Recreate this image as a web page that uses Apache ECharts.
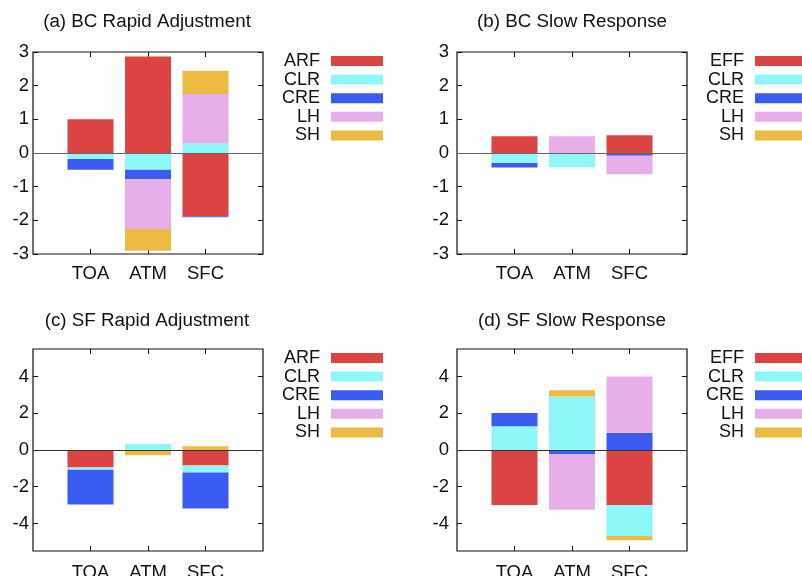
<!DOCTYPE html>
<html>
<head>
<meta charset="utf-8">
<script src="https://cdn.jsdelivr.net/npm/echarts@6/dist/echarts.min.js"></script>
<style>
  html, body { margin: 0; padding: 0; background: #fff; }
  #chart { width: 802px; height: 576px; }
</style>
</head>
<body>
<div id="chart"></div>
<script>
// Energy budget decomposition (W m-2) at TOA, in the atmosphere and at the surface
const categories = ['TOA', 'ATM', 'SFC'];

// (a) BC rapid adjustment
const bcRapidARF = [1.0, 2.87, -1.88];
const bcRapidCLR = [-0.18, -0.5, 0.29];
const bcRapidCRE = [-0.32, -0.28, -0.03];
const bcRapidLH  = [0, -1.48, 1.46];
const bcRapidSH  = [0, -0.64, 0.69];

// (b) BC slow response
const bcSlowEFF = [0.5, 0, 0.53];
const bcSlowCLR = [-0.3, -0.42, 0];
const bcSlowCRE = [-0.13, 0, -0.08];
const bcSlowLH  = [0, 0.5, -0.55];
const bcSlowSH  = [0, 0, 0];

// (c) SF rapid adjustment
const sfRapidARF = [-0.95, -0.06, -0.85];
const sfRapidCLR = [-0.12, 0.32, -0.38];
const sfRapidCRE = [-1.9, 0, -1.96];
const sfRapidLH  = [0, 0, 0];
const sfRapidSH  = [0, -0.22, 0.2];

// (d) SF slow response
const sfSlowEFF = [-3.0, 0, -3.0];
const sfSlowCLR = [1.3, 2.92, -1.68];
const sfSlowCRE = [0.72, -0.22, 0.94];
const sfSlowLH  = [0, -3.03, 3.06];
const sfSlowSH  = [0, 0.33, -0.24];

// Axis tick labels
const bcTicks = [-3, -2, -1, 0, 1, 2, 3];
const sfTicks = [-4, -2, 0, 2, 4];

const COLORS = {
  ARF: '#dc4343', EFF: '#dc4343',
  CLR: '#8ef8f8', CRE: '#3b5cf2',
  LH: '#e8aeea', SH: '#ebbb44'
};
const FONT = "'Liberation Sans', Arial, Helvetica, sans-serif";

const panels = [
  { title: '(a) BC Rapid Adjustment', grid: { left: 33, top: 52 }, titlePos: [147, 12],
    range: [-3, 3], ticks: bcTicks, labelMargin: 4, catMargin: 10, zeroColor: '#666',
    legendRight: 419, legendTop: 52,
    comps: [['ARF', bcRapidARF], ['CLR', bcRapidCLR], ['CRE', bcRapidCRE], ['LH', bcRapidLH], ['SH', bcRapidSH]] },
  { title: '(b) BC Slow Response', grid: { left: 457, top: 52 }, titlePos: [572, 12],
    range: [-3, 3], ticks: bcTicks, labelMargin: 8, catMargin: 10, zeroColor: '#666',
    legendRight: -5, legendTop: 52,
    comps: [['EFF', bcSlowEFF], ['CLR', bcSlowCLR], ['CRE', bcSlowCRE], ['LH', bcSlowLH], ['SH', bcSlowSH]] },
  { title: '(c) SF Rapid Adjustment', grid: { left: 33, top: 349 }, titlePos: [147, 311],
    range: [-5.5, 5.5], ticks: sfTicks, labelMargin: 4, catMargin: 12, zeroColor: '#333',
    legendRight: 419, legendTop: 349,
    comps: [['ARF', sfRapidARF], ['CLR', sfRapidCLR], ['CRE', sfRapidCRE], ['LH', sfRapidLH], ['SH', sfRapidSH]] },
  { title: '(d) SF Slow Response', grid: { left: 457, top: 349 }, titlePos: [572, 311],
    range: [-5.5, 5.5], ticks: sfTicks, labelMargin: 8, catMargin: 12, zeroColor: '#333',
    legendRight: -5, legendTop: 349,
    comps: [['EFF', sfSlowEFF], ['CLR', sfSlowCLR], ['CRE', sfSlowCRE], ['LH', sfSlowLH], ['SH', sfSlowSH]] }
];

// Pad the category axis with an empty slot on each side so bars sit at 1, 2, 3 of 0..4
const axisCats = [''].concat(categories, ['']);
const innerTick = (idx) => idx > 0 && idx < axisCats.length - 1;
const tickStyle = { show: true, inside: true, length: 5, lineStyle: { color: '#111' } };

const option = {
  animation: false,
  backgroundColor: '#fff',
  textStyle: { fontFamily: FONT },
  title: [], grid: [], xAxis: [], yAxis: [], legend: [], series: []
};

panels.forEach((p, i) => {
  option.title.push({
    text: p.title, left: p.titlePos[0], top: p.titlePos[1], textAlign: 'center', padding: 0,
    textStyle: { fontFamily: FONT, fontSize: 18.8, fontWeight: 'normal', color: '#111' }
  });
  option.grid.push({
    left: p.grid.left, top: p.grid.top, width: 230, height: 202,
    outerBoundsMode: 'none', containLabel: false,
    show: true, borderColor: '#111', borderWidth: 1.2, backgroundColor: 'transparent'
  });
  // bottom axis with labels, top axis carries the mirrored ticks
  option.xAxis.push({
    type: 'category', gridIndex: i, data: axisCats, boundaryGap: false, position: 'bottom',
    axisLine: { show: false, onZero: false },
    axisTick: Object.assign({ interval: innerTick }, tickStyle),
    axisLabel: { interval: 0, margin: p.catMargin, fontSize: 18.5, color: '#111', fontFamily: FONT },
    splitLine: { show: false }
  });
  option.xAxis.push({
    type: 'category', gridIndex: i, data: axisCats, boundaryGap: false, position: 'top',
    axisLine: { show: false, onZero: false },
    axisTick: Object.assign({ interval: innerTick }, tickStyle),
    axisLabel: { show: false }, splitLine: { show: false }
  });
  option.yAxis.push({
    type: 'value', gridIndex: i, min: p.range[0], max: p.range[1], position: 'left',
    axisLine: { show: false, onZero: false },
    axisTick: Object.assign({ customValues: p.ticks }, tickStyle),
    axisLabel: { customValues: p.ticks, margin: p.labelMargin, fontSize: 18.5, color: '#111', fontFamily: FONT },
    splitLine: { show: false }
  });
  option.yAxis.push({
    type: 'value', gridIndex: i, min: p.range[0], max: p.range[1], position: 'right',
    axisLine: { show: false, onZero: false },
    axisTick: Object.assign({ customValues: p.ticks }, tickStyle),
    axisLabel: { show: false }, splitLine: { show: false }
  });
  option.legend.push({
    orient: 'vertical', align: 'right', right: p.legendRight, top: p.legendTop, padding: 0,
    itemWidth: 52, itemHeight: 10, itemGap: 0.6, icon: 'rect',
    data: p.comps.map(c => c[0]),
    textStyle: { fontFamily: FONT, fontSize: 18, lineHeight: 18, color: '#111', padding: [0, 6, 0, 0] },
    selectedMode: false
  });
  p.comps.forEach((c, k) => {
    const s = {
      name: c[0], type: 'bar', xAxisIndex: 2 * i, yAxisIndex: 2 * i,
      stack: 'panel' + i, barWidth: 46,
      data: ['-'].concat(c[1], ['-']),
      itemStyle: { color: COLORS[c[0]] }
    };
    if (k === 0) {
      // zero line across the panel
      s.markLine = {
        silent: true, symbol: ['none', 'none'], animation: false,
        label: { show: false },
        lineStyle: { color: p.zeroColor, width: 1, type: 'solid' },
        data: [{ yAxis: 0 }]
      };
    }
    option.series.push(s);
  });
});

const chart = echarts.init(document.getElementById('chart'), null, { renderer: 'canvas' });
chart.setOption(option);
</script>
</body>
</html>
